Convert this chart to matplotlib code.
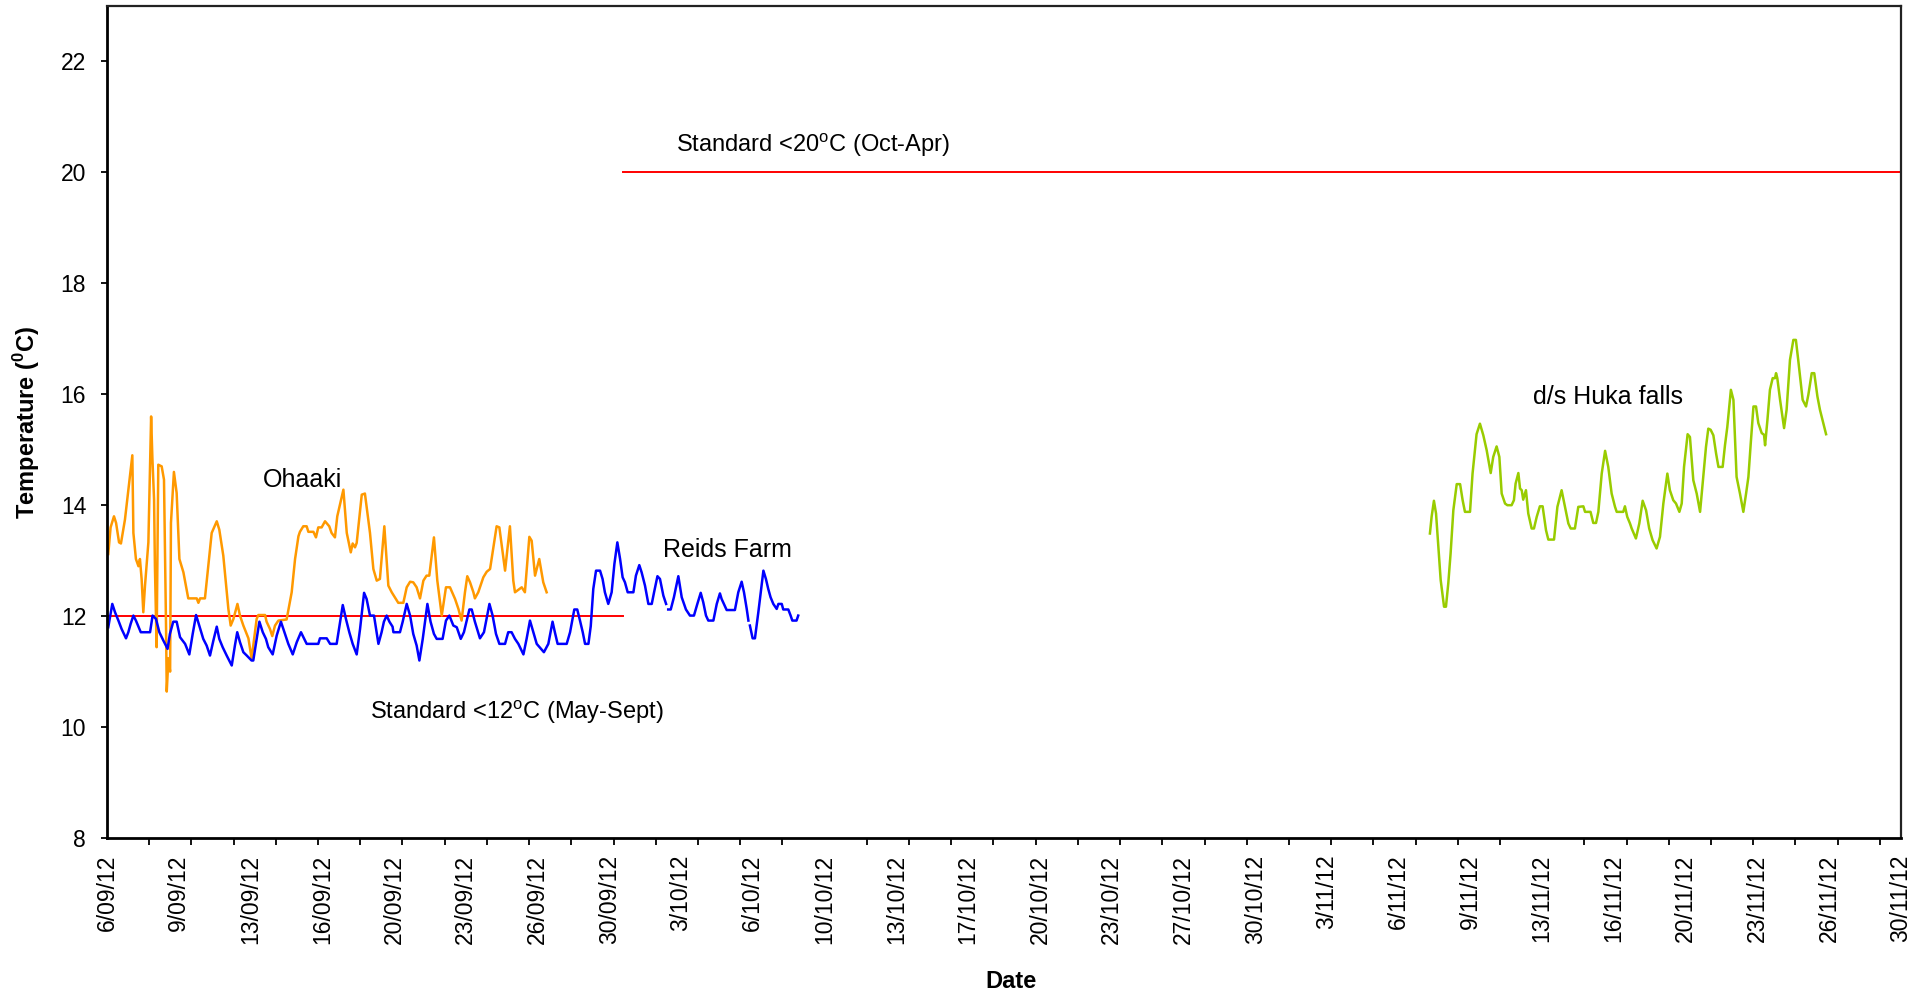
import numpy as np
import matplotlib
matplotlib.use("Agg")
import matplotlib.pyplot as plt
from matplotlib.ticker import FixedLocator, MultipleLocator, NullFormatter

plt.rcParams["font.family"] = ["Liberation Sans", "DejaVu Sans"]
plt.rcParams["mathtext.fontset"] = "custom"
plt.rcParams["mathtext.rm"] = "Liberation Sans"
plt.rcParams["mathtext.bf"] = "Liberation Sans:bold"

# x values are days from the start of the date axis (6/09/12)
ohaaki_day = [
    0.06, 0.17, 0.33, 0.43, 0.57, 0.66, 0.85, 1.20, 1.25, 1.37, 1.49, 1.56, 1.64, 1.72,
    1.80, 1.96, 2.09, 2.15, 2.23, 2.27, 2.35, 2.43, 2.59, 2.70, 2.80, 2.83, 2.91, 2.99,
    3.03, 3.17, 3.30, 3.43, 3.62, 3.85, 4.25, 4.33, 4.41, 4.64, 4.96, 5.20, 5.32, 5.51,
    5.75, 5.86, 5.99, 6.18, 6.30, 6.46, 6.70, 6.85, 6.93, 7.09, 7.17, 7.49, 7.56, 7.72,
    7.83, 7.96, 8.12, 8.51, 8.75, 8.91, 9.07, 9.14, 9.30, 9.46, 9.54, 9.78, 9.90, 10.01,
    10.17, 10.33, 10.53, 10.64, 10.80, 10.91, 11.20, 11.36, 11.55, 11.64, 11.75, 11.83,
    12.07, 12.22, 12.46, 12.62, 12.78, 12.93, 13.14, 13.33, 13.49, 13.80, 14.04, 14.20,
    14.36, 14.51, 14.67, 14.83, 14.99, 15.14, 15.27, 15.49, 15.65, 15.86, 16.06, 16.25,
    16.49, 16.65, 16.80, 16.96, 17.07, 17.20, 17.36, 17.43, 17.59, 17.83, 17.99, 18.15,
    18.46, 18.59, 18.86, 19.09, 19.25, 19.33, 19.65, 19.80, 20.01, 20.12, 20.28, 20.48,
    20.67, 20.83,
]
ohaaki_temp = [
    13.12, 13.6, 13.8, 13.68, 13.33, 13.31, 13.74, 14.9, 13.5, 13.03, 12.9, 13.03, 12.67, 12.07,
    12.55, 13.33, 15.6, 14.85, 14.1, 12.9, 11.44, 14.73, 14.7, 14.46, 11.71, 10.64, 11.24, 11.0,
    13.68, 14.6, 14.22, 13.03, 12.79, 12.32, 12.32, 12.24, 12.32, 12.32, 13.5, 13.71, 13.56, 13.09,
    12.13, 11.83, 11.95, 12.22, 12.01, 11.83, 11.6, 11.24, 11.47, 11.95, 12.02, 12.02, 11.9, 11.77,
    11.64, 11.83, 11.92, 11.94, 12.43, 13.03, 13.44, 13.52, 13.62, 13.62, 13.52, 13.52, 13.42, 13.6,
    13.6, 13.71, 13.62, 13.5, 13.42, 13.8, 14.28, 13.5, 13.15, 13.31, 13.24, 13.32,
    14.19, 14.21, 13.5, 12.85, 12.64, 12.67, 13.62, 12.55, 12.43, 12.24, 12.24, 12.52,
    12.62, 12.61, 12.52, 12.32, 12.64, 12.73, 12.73, 13.42, 12.64, 12.01, 12.52, 12.52,
    12.31, 12.13, 11.92, 12.43, 12.72, 12.61, 12.43, 12.32, 12.43, 12.7, 12.8, 12.85,
    13.62, 13.6, 12.82, 13.62, 12.64, 12.43, 12.52, 12.43, 13.43, 13.36, 12.73, 13.03,
    12.61, 12.43,
]

reids_day = [
    0.06, 0.25, 0.38, 0.54, 0.69, 0.90, 1.01, 1.12, 1.25, 1.37, 1.48, 1.60, 2.04, 2.16,
    2.32, 2.48, 2.67, 2.87, 2.98, 3.14, 3.30, 3.46, 3.70, 3.90, 4.06, 4.22, 4.37, 4.56,
    4.72, 4.88, 5.04, 5.20, 5.32, 5.48, 5.67, 5.91, 6.06, 6.17, 6.30, 6.46, 6.62, 6.85,
    6.93, 7.09, 7.22, 7.38, 7.53, 7.64, 7.85, 8.04, 8.24, 8.43, 8.59, 8.80, 8.99, 9.19,
    9.33, 9.46, 10.01, 10.09, 10.41, 10.57, 10.88, 11.04, 11.17, 11.32, 11.48, 11.64,
    11.83, 11.99, 12.18, 12.30, 12.46, 12.65, 12.86, 13.01, 13.12, 13.25, 13.38, 13.53,
    13.57, 13.88, 14.01, 14.20, 14.36, 14.51, 14.67, 14.80, 14.96, 15.18, 15.33, 15.49,
    15.62, 15.90, 16.06, 16.22, 16.41, 16.57, 16.76, 16.91, 17.17, 17.28, 17.43, 17.67,
    17.86, 18.12, 18.27, 18.43, 18.59, 18.86, 19.01, 19.17, 19.33, 19.49, 19.73, 19.88,
    20.04, 20.20, 20.36, 20.70, 20.91, 21.11, 21.22, 21.35, 21.78, 21.94, 22.14, 22.28,
    22.41, 22.54, 22.65, 22.81, 22.92, 23.04, 23.17, 23.36, 23.48, 23.59, 23.75, 23.91,
    24.04, 24.18, 24.31, 24.43, 24.54, 24.67, 24.94, 25.06, 25.22, 25.33, 25.49, 25.65,
    25.81, 25.92, 26.08, 26.20, 26.36, 26.49, 26.54, 26.59, 26.71, 26.86, 27.07, 27.23,
    27.43, 27.62, 27.81, 27.97, 28.13, 28.25, 28.38, 28.49, 28.73, 28.89, 29.04, 29.12,
    29.23, 29.36, 29.75, 29.91, 30.07, 30.18, 30.31, 30.39, 30.42, 30.46, 30.59, 30.70,
    30.86, 31.10, 31.22, 31.33, 31.44, 31.57, 31.73, 31.81, 31.97, 32.04, 32.28, 32.39,
    32.47, 32.67, 32.75,
]
reids_temp = [
    11.8, 12.22, 12.07, 11.92, 11.77, 11.6, 11.71, 11.86, 12.01, 11.92, 11.82, 11.71, 11.71, 12.01,
    11.95, 11.71, 11.56, 11.41, 11.68, 11.9, 11.9, 11.62, 11.5, 11.31, 11.68, 12.02, 11.83, 11.59,
    11.47, 11.29, 11.56, 11.81, 11.59, 11.44, 11.29, 11.11, 11.47, 11.71, 11.53, 11.35, 11.29, 11.2,
    11.2, 11.59, 11.9, 11.71, 11.59, 11.44, 11.31, 11.65, 11.9, 11.68, 11.5, 11.31, 11.53, 11.71,
    11.6, 11.5, 11.5, 11.6, 11.6, 11.5, 11.5, 11.89, 12.2, 11.95, 11.71, 11.5,
    11.31, 11.77, 12.42, 12.31, 12.01, 12.01, 11.5, 11.71, 11.9, 12.01, 11.9, 11.81,
    11.71, 11.71, 11.9, 12.22, 12.01, 11.68, 11.47, 11.2, 11.59, 12.22, 11.9, 11.68,
    11.59, 11.59, 11.92, 12.01, 11.83, 11.8, 11.59, 11.71, 12.12, 12.12, 11.9, 11.6,
    11.71, 12.22, 12.01, 11.68, 11.5, 11.5, 11.71, 11.71, 11.59, 11.5, 11.31, 11.59,
    11.92, 11.71, 11.5, 11.35, 11.5, 11.9, 11.71, 11.5, 11.5, 11.71, 12.12, 12.12,
    11.92, 11.71, 11.5, 11.5, 11.82, 12.49, 12.82, 12.82, 12.67, 12.43, 12.22, 12.43,
    12.94, 13.33, 13.03, 12.7, 12.61, 12.43, 12.43, 12.73, 12.92, 12.79, 12.55, 12.22,
    12.22, 12.43, 12.72, 12.67, 12.37, 12.22, np.nan, 12.12, 12.12, 12.34, 12.72, 12.34,
    12.12, 12.01, 12.01, 12.22, 12.42, 12.25, 12.01, 11.92, 11.92, 12.22, 12.41, 12.31,
    12.22, 12.11, 12.11, 12.43, 12.62, 12.43, 12.13, 11.92, np.nan, 11.83, 11.6, 11.6,
    12.07, 12.82, 12.67, 12.49, 12.34, 12.22, 12.13, 12.22, 12.22, 12.12, 12.12, 12.01,
    11.92, 11.92, 12.01,
]

huka_day = [
    62.68, 62.76, 62.87, 62.97, 63.08, 63.19, 63.35, 63.44, 63.55, 63.66, 63.79, 63.95, 64.11,
    64.23, 64.34, 64.58, 64.70, 64.89, 65.05, 65.21, 65.37, 65.56, 65.68, 65.84, 65.97, 66.08,
    66.24, 66.35, 66.55, 66.66, 66.74, 66.87, 66.95, 67.03, 67.10, 67.23, 67.34, 67.50, 67.61,
    67.74, 67.89, 68.02, 68.18, 68.29, 68.56, 68.72, 68.92, 69.08, 69.24, 69.35, 69.55, 69.71,
    69.95, 70.03, 70.29, 70.42, 70.55, 70.66, 70.82, 70.98, 71.13, 71.29, 71.45, 71.53, 71.84,
    71.92, 72.03, 72.16, 72.24, 72.44, 72.60, 72.76, 72.92, 73.07, 73.23, 73.42, 73.58, 73.74,
    73.93, 74.05, 74.21, 74.34, 74.50, 74.61, 74.72, 74.89, 75.00, 75.16, 75.32, 75.48, 75.63,
    75.76, 75.87, 75.98, 76.11, 76.24, 76.35, 76.55, 76.66, 76.77, 76.94, 77.06, 77.21, 77.37,
    77.53, 77.66, 77.77, 77.88, 78.01, 78.13, 78.24, 78.40, 78.51, 78.56, 78.67, 78.79, 78.92,
    79.03, 79.08, 79.14, 79.27, 79.46, 79.58, 79.74, 79.90, 80.02, 80.13, 80.34, 80.50, 80.61,
    80.77, 80.89, 81.04, 81.16, 81.32, 81.45,
]
huka_temp = [
    13.49, 13.79, 14.08, 13.85, 13.25, 12.65, 12.17, 12.17, 12.59, 13.13, 13.91, 14.38, 14.38,
    14.09, 13.88, 13.88, 14.57, 15.28, 15.47, 15.26, 14.99, 14.58, 14.87, 15.06, 14.87, 14.21,
    14.03, 14.0, 14.0, 14.09, 14.39, 14.58, 14.3, 14.27, 14.1, 14.27, 13.85, 13.58, 13.58,
    13.79, 13.98, 13.98, 13.55, 13.38, 13.38, 13.97, 14.27, 13.97, 13.67, 13.58, 13.58, 13.97,
    13.98, 13.88, 13.88, 13.68, 13.68, 13.88, 14.57, 14.98, 14.69, 14.21, 13.97, 13.88, 13.88,
    13.98, 13.79, 13.67, 13.58, 13.4, 13.67, 14.08, 13.91, 13.58, 13.37, 13.22, 13.43, 14.03,
    14.57, 14.27, 14.09, 14.03, 13.88, 14.03, 14.69, 15.28, 15.23, 14.45, 14.21, 13.88, 14.51,
    15.05, 15.38, 15.36, 15.26, 14.93, 14.69, 14.69, 15.08, 15.41, 16.08, 15.9, 14.51, 14.21,
    13.88, 14.21, 14.51, 15.11, 15.78, 15.78, 15.48, 15.3, 15.27, 15.08, 15.53, 16.08, 16.29,
    16.29, 16.38, 16.29, 15.9, 15.39, 15.72, 16.62, 16.98, 16.98, 16.62, 15.9, 15.78, 15.99,
    16.38, 16.38, 15.96, 15.72, 15.48, 15.28,
]

# guideline standards
std12_day = [0.0, 24.45]
std12_temp = [12, 12]
std20_day = [24.45, 85.0]
std20_temp = [20, 20]

tick_labels = [
    "6/09/12", "9/09/12", "13/09/12", "16/09/12", "20/09/12", "23/09/12", "26/09/12",
    "30/09/12", "3/10/12", "6/10/12", "10/10/12", "13/10/12", "17/10/12", "20/10/12",
    "23/10/12", "27/10/12", "30/10/12", "3/11/12", "6/11/12", "9/11/12", "13/11/12",
    "16/11/12", "20/11/12", "23/11/12", "26/11/12", "30/11/12",
]
label_step = 3.4  # days between date labels

fig = plt.figure(figsize=(19.16, 9.96), dpi=100)
ax = fig.add_axes([0.05585, 0.15863, 0.93632, 0.83535])

ax.plot(std12_day, std12_temp, color="#FF0000", lw=1.4)
ax.plot(std20_day, std20_temp, color="#FF0000", lw=1.4)
ax.plot(ohaaki_day, ohaaki_temp, color="#FF9900", lw=1.8)
ax.plot(reids_day, reids_temp, color="#0000FF", lw=1.8)
ax.plot(huka_day, huka_temp, color="#99CC00", lw=1.8)

ax.set_xlim(0, 85)
ax.set_ylim(8, 23)
ax.set_yticks(range(8, 23, 2))

ax.xaxis.set_major_locator(FixedLocator([label_step * k for k in range(len(tick_labels))]))
ax.set_xticklabels(tick_labels, rotation=90, fontsize=16.5)
ax.xaxis.set_minor_locator(MultipleLocator(2))
ax.xaxis.set_minor_formatter(NullFormatter())
ax.tick_params(axis="x", which="major", length=0, pad=12)
ax.tick_params(axis="x", which="minor", length=5, width=1.3, direction="out")
ax.tick_params(axis="y", labelsize=16.5, length=4.5, width=1.3, direction="out", pad=10.5)

for side in ["left", "bottom"]:
    ax.spines[side].set_linewidth(2)
for side in ["top", "right"]:
    ax.spines[side].set_linewidth(1.6)
    ax.spines[side].set_color("#222222")

ax.set_ylabel(r"Temperature ($^{\mathbf{0}}$C)", fontsize=17, fontweight="bold", va="center")
ax.yaxis.set_label_coords(-0.0446, 0.5)
ax.set_xlabel("Date", fontsize=17, fontweight="bold", va="center")
ax.xaxis.set_label_coords(0.504, -0.172)

ax.text(26.95, 20.36, r"Standard <20$^{\rm o}$C (Oct-Apr)", fontsize=17, va="baseline")
ax.text(12.48, 10.14, r"Standard <12$^{\rm o}$C (May-Sept)", fontsize=17, va="baseline")
ax.text(7.39, 14.32, "Ohaaki", fontsize=18, va="baseline")
ax.text(26.33, 13.06, "Reids Farm", fontsize=18, va="baseline")
ax.text(67.55, 15.82, "d/s Huka falls", fontsize=18, va="baseline")

fig.savefig("out.png", dpi=100)
